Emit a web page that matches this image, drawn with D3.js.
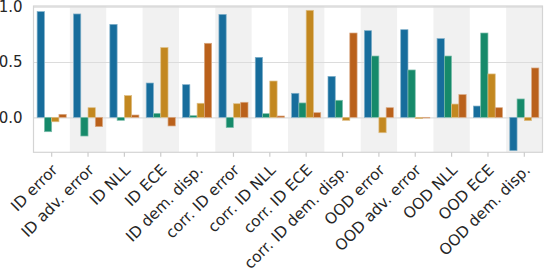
<!DOCTYPE html>
<html>
<head>
<meta charset="utf-8">
<script src="https://cdn.jsdelivr.net/npm/d3@7"></script>
<style>
  html, body { margin: 0; padding: 0; background: #fff; overflow: hidden; }
  text { font-family: "DejaVu Sans", sans-serif; fill: #262626; }
</style>
</head>
<body>
<div id="chart"></div>
<script>
// metric names along the x axis
const categories = ['ID error', 'ID adv. error', 'ID NLL', 'ID ECE', 'ID dem. disp.',
  'corr. ID error', 'corr. ID NLL', 'corr. ID ECE', 'corr. ID dem. disp.',
  'OOD error', 'OOD adv. error', 'OOD NLL', 'OOD ECE', 'OOD dem. disp.'];

// four series (no legend in the original)
const seriesBlue   = [0.955, 0.934, 0.84, 0.31, 0.295, 0.93, 0.542, 0.217, 0.37, 0.783, 0.792, 0.711, 0.102, -0.301];
const seriesGreen  = [-0.13, -0.169, -0.027, 0.036, 0.015, -0.093, 0.033, 0.13, 0.154, 0.554, 0.428, 0.554, 0.762, 0.166];
const seriesOrange = [-0.04, 0.087, 0.196, 0.63, 0.127, 0.123, 0.328, 0.967, -0.027, -0.139, -0.012, 0.12, 0.392, -0.03];
const seriesRed    = [0.027, -0.084, 0.021, -0.078, 0.669, 0.136, 0.012, 0.042, 0.762, 0.087, -0.006, 0.205, 0.087, 0.446];

const seriesKeys = ['blue', 'green', 'orange', 'red'];
const seriesValues = [seriesBlue, seriesGreen, seriesOrange, seriesRed];

const yTicks = [0, 0.5, 1.0];
const yDomain = [-0.316, 1.006];

const width = 544, height = 268;
const margin = {top: 6, right: 1.5, bottom: 115.7, left: 33.5};

const svg = d3.select('#chart').append('svg')
    .attr('width', width)
    .attr('height', height);

const x0 = d3.scaleBand()
    .domain(categories)
    .range([margin.left, width - margin.right])
    .paddingInner(0)
    .paddingOuter(0);

// bars fill 80% of each band, like seaborn's default width
const x1 = d3.scaleBand()
    .domain(seriesKeys)
    .range([0, x0.bandwidth() * 0.8]);

const y = d3.scaleLinear()
    .domain(yDomain)
    .range([height - margin.bottom, margin.top]);

// seaborn colorblind palette, desaturated to 0.75
const color = d3.scaleOrdinal()
    .domain(seriesKeys)
    .range(['#176d9c', '#168a6a', '#c38820', '#ba611b']);

// alternating grey bands
svg.append('g')
  .selectAll('rect')
  .data(categories.filter((d, i) => i % 2 === 1))
  .join('rect')
    .attr('x', d => x0(d))
    .attr('y', margin.top)
    .attr('width', x0.bandwidth())
    .attr('height', y.range()[0] - margin.top)
    .attr('fill', '#f1f1f1');

// horizontal grid
const yAxis = d3.axisLeft(y)
    .tickValues(yTicks)
    .tickSize(-(width - margin.left - margin.right))
    .tickPadding(11)
    .tickFormat(d3.format('.1f'));

svg.append('g')
    .attr('transform', `translate(${margin.left},0)`)
    .call(yAxis)
    .call(g => g.select('.domain').remove())
    .call(g => g.selectAll('.tick line').attr('stroke', '#dcdcdc').attr('stroke-width', 1.2))
    .call(g => g.selectAll('.tick text')
        .attr('font-size', 15)
        .attr('font-family', 'DejaVu Sans')
        .attr('fill', '#262626'));

// bars
const groups = svg.append('g')
  .selectAll('g')
  .data(categories)
  .join('g')
    .attr('transform', d => `translate(${x0(d) + x0.bandwidth() * 0.1},0)`);

groups.selectAll('rect')
  .data((d, i) => seriesKeys.map((k, j) => ({key: k, value: seriesValues[j][i]})))
  .join('rect')
    .attr('x', d => x1(d.key))
    .attr('width', x1.bandwidth())
    .attr('y', d => y(Math.max(0, d.value)))
    .attr('height', d => Math.abs(y(d.value) - y(0)))
    .attr('fill', d => color(d.key))
    .attr('stroke', d => d3.interpolateRgb(color(d.key), '#ffffff')(0.45))
    .attr('stroke-width', 0.7);

// frame
svg.append('rect')
    .attr('x', margin.left)
    .attr('y', margin.top)
    .attr('width', width - margin.left - margin.right)
    .attr('height', y.range()[0] - margin.top)
    .attr('fill', 'none')
    .attr('stroke', '#d4d4d4')
    .attr('stroke-width', 1.2);

// x ticks and rotated labels
const xAxisG = svg.append('g');
const xTick = xAxisG.selectAll('g')
  .data(categories)
  .join('g')
    .attr('transform', d => `translate(${x0(d) + x0.bandwidth() / 2},0)`);

xTick.append('line')
    .attr('y1', y.range()[0])
    .attr('y2', y.range()[0] + 4.5)
    .attr('stroke', '#cccccc')
    .attr('stroke-width', 1.2);

xTick.append('text')
    .attr('text-anchor', 'end')
    .attr('font-size', 15.3)
    .attr('transform', `translate(6.8,171) rotate(-45)`)
    .text(d => d);
</script>
</body>
</html>
